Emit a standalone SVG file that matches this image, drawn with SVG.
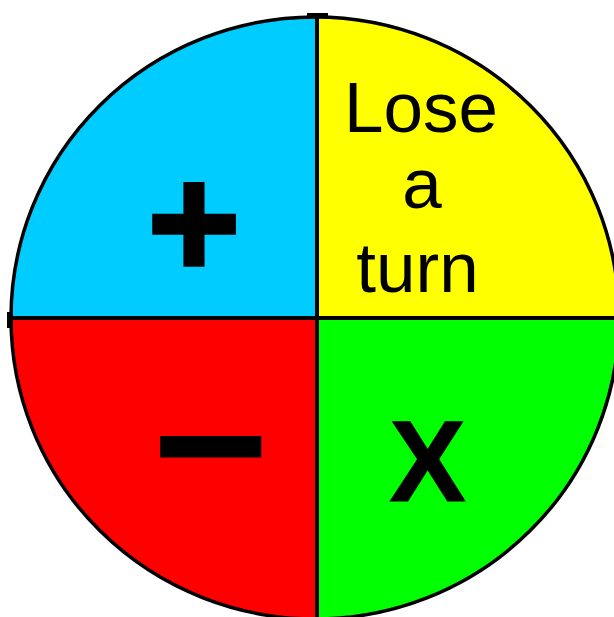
<svg xmlns="http://www.w3.org/2000/svg" width="614" height="617" viewBox="0 0 614 617">
<style>
.lbl{font-family:"Liberation Sans",Arial,sans-serif;fill:#000;}
.bd{font-family:"Liberation Sans",Arial,sans-serif;font-weight:bold;fill:#000;stroke:#000;stroke-linejoin:miter;}
</style>
<defs>
<clipPath id="c"><ellipse cx="315" cy="318" rx="304" ry="301"/></clipPath>
</defs>
<rect width="614" height="617" fill="#fff"/>
<g id="quadrants" clip-path="url(#c)">
<rect id="q-blue" x="0" y="0" width="317" height="318" fill="#00CCFF"/>
<rect id="q-yellow" x="317" y="0" width="300" height="318" fill="#FFFF00"/>
<rect id="q-red" x="0" y="318" width="317" height="300" fill="#FF0000"/>
<rect id="q-green" x="317" y="318" width="300" height="300" fill="#00FF00"/>
</g>
<ellipse cx="315" cy="318" rx="304" ry="301" fill="none" stroke="#000" stroke-width="3.5"/>
<g id="dividers" fill="#000">
<rect x="315" y="13" width="4" height="604"/>
<rect x="307" y="13" width="21" height="5"/>
<rect x="7" y="316" width="607" height="4"/>
<rect x="7" y="312" width="6" height="16"/>
</g>
<g id="plus"><text class="bd" x="194" y="278" font-size="160" stroke-width="3.5" text-anchor="middle">+</text></g>
<g id="minus"><text class="bd" transform="translate(210.5,0) scale(1.2,1)" x="0" y="500" font-size="160" stroke-width="4" text-anchor="middle">−</text></g>
<g id="lose-a-turn">
<text class="lbl" x="421" y="132" font-size="71" text-anchor="middle">Lose</text>
<text class="lbl" x="422" y="208" font-size="71" text-anchor="middle">a</text>
<text class="lbl" x="417.5" y="292" font-size="71" text-anchor="middle">turn</text>
</g>
<g id="times"><text class="bd" x="427.5" y="501" font-size="115" stroke-width="1" text-anchor="middle">X</text></g>
</svg>
